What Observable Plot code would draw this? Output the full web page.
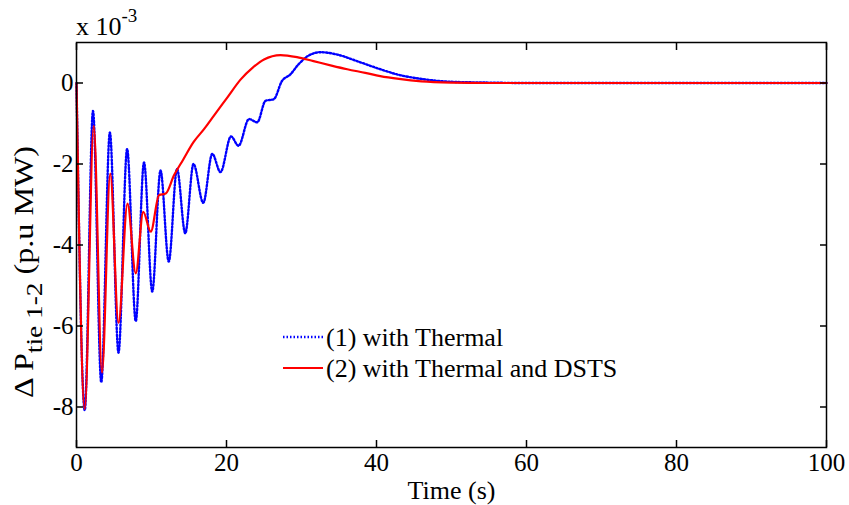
<!DOCTYPE html>
<html>
<head>
<meta charset="utf-8">
<script src="https://cdn.jsdelivr.net/npm/d3@7"></script>
<script src="https://cdn.jsdelivr.net/npm/@observablehq/plot@0.6"></script>
<style>
  html, body { margin: 0; padding: 0; background: white; }
  #chart svg { display: block; }
</style>
</head>
<body>
<div id="chart"></div>
<script>
// Values are in units of 10^-3 p.u. MW
const thermalTime = [0, 1.1, 2.2, 3.3, 4.45, 5.6, 6.75, 7.9, 9.0, 10.1, 11.2, 12.3, 13.4, 14.5, 15.6, 16.9, 18.1, 19.2, 20.6, 21.6, 23.0, 24.1, 25.2, 26.3, 27.4, 28.5, 29.6, 30.8, 32.5, 34.8, 37.4, 40.5, 43, 46, 50, 55, 60, 70, 80, 90, 100];
const thermalValue = [0, -8.08, -0.69, -7.39, -1.22, -6.66, -1.63, -5.88, -1.96, -5.15, -2.16, -4.41, -2.12, -3.71, -2.0, -2.96, -1.75, -2.2, -1.32, -1.55, -0.89, -0.97, -0.44, -0.4, 0.05, 0.21, 0.46, 0.66, 0.76, 0.7, 0.54, 0.34, 0.2, 0.1, 0.03, 0.01, 0, 0, 0, 0, 0];

const dstsTime = [0, 1.1, 2.3, 3.4, 4.5, 5.6, 6.8, 7.9, 8.9, 9.9, 11.0, 11.9, 13.0, 14.2, 15.6, 17.0, 18.3, 20.1, 21.9, 23.5, 25.0, 27.2, 29.4, 31.6, 34, 36.1, 38.5, 40.5, 43, 46, 50, 55, 60, 70, 80, 90, 100];
const dstsValue = [0, -8.05, -1.06, -7.15, -2.24, -5.92, -2.98, -4.7, -3.18, -3.67, -2.77, -2.73, -2.28, -1.9, -1.46, -1.14, -0.81, -0.36, 0.09, 0.38, 0.58, 0.69, 0.64, 0.54, 0.43, 0.34, 0.25, 0.17, 0.1, 0.04, 0.01, 0, 0, 0, 0, 0, 0];

const xTicks = [0, 20, 40, 60, 80, 100];
const yTicks = [0, -2, -4, -6, -8];
const seriesNames = ["(1) with Thermal", "(2) with Thermal and DSTS"];
const seriesColors = ["#0000ff", "#ff0000"];

const thermal = thermalTime.map((t, i) => ({t, v: thermalValue[i]}));
const dsts = dstsTime.map((t, i) => ({t, v: dstsValue[i]}));

const FONT = "'Liberation Serif', 'Times New Roman', serif";
const DOTS = "1.5,2";

const chart = Plot.plot({
  width: 849,
  height: 505,
  marginLeft: 76,
  marginRight: 23,
  marginTop: 42,
  marginBottom: 58,
  style: {fontFamily: FONT, fontSize: "25px", color: "black", background: "white", overflow: "visible"},
  x: {domain: [0, 100]},
  y: {domain: [-9, 1]},
  marks: [
    Plot.line(thermal, {x: "t", y: "v", stroke: seriesColors[0], strokeWidth: 2.4, strokeDasharray: DOTS, curve: "monotone-x"}),
    Plot.line(dsts, {x: "t", y: "v", stroke: seriesColors[1], strokeWidth: 2.2, curve: "monotone-x"}),
    Plot.frame({stroke: "black", strokeWidth: 1.5}),
    Plot.axisX({ticks: xTicks, tickSize: -7, tickPadding: 13, tickFormat: d => String(d), label: null, strokeWidth: 1.5}),
    Plot.axisX({anchor: "top", ticks: xTicks, tickSize: -7, tickFormat: () => "", label: null, strokeWidth: 1.5}),
    Plot.axisY({ticks: yTicks, tickSize: -7, tickPadding: 10, tickFormat: d => String(d), label: null, strokeWidth: 1.5}),
    Plot.axisY({anchor: "right", ticks: yTicks, tickSize: -7, tickFormat: () => "", label: null, strokeWidth: 1.5}),
    Plot.text(["Time (s)"], {frameAnchor: "bottom", dy: 43, lineAnchor: "middle", fontSize: 26, fill: "black"})
  ]
});

document.getElementById("chart").appendChild(chart);

const svg = d3.select(chart);

// Exponent label
const ex = svg.append("text")
  .attr("x", 76).attr("y", 35)
  .attr("text-anchor", "start")
  .attr("font-family", FONT).attr("font-size", 26).attr("fill", "black");
ex.append("tspan").text("x 10");
ex.append("tspan").attr("dy", -13).attr("font-size", 19).text("-3");

// Y-axis label
const yl = svg.append("text")
  .attr("transform", "translate(33,272) rotate(-90)")
  .attr("text-anchor", "middle")
  .attr("font-family", FONT).attr("font-size", 27).attr("fill", "black")
  .attr("textLength", 252).attr("lengthAdjust", "spacingAndGlyphs");
yl.append("tspan").text("\u0394 P");
yl.append("tspan").attr("dy", 9).attr("font-size", 23).text("tie 1-2");
yl.append("tspan").attr("dy", -9).text(" (p.u MW)");

// Legend
const legendY = [337, 368];
seriesNames.forEach((name, i) => {
  svg.append("line")
    .attr("x1", 283).attr("x2", 323).attr("y1", legendY[i]).attr("y2", legendY[i])
    .attr("stroke", seriesColors[i]).attr("stroke-width", i === 0 ? 2.4 : 2.2)
    .attr("stroke-dasharray", i === 0 ? DOTS : null);
  svg.append("text")
    .attr("x", 326).attr("y", legendY[i]).attr("dy", "0.35em")
    .attr("text-anchor", "start")
    .attr("font-family", FONT).attr("font-size", 26).attr("fill", "black")
    .text(name);
});
</script>
</body>
</html>
